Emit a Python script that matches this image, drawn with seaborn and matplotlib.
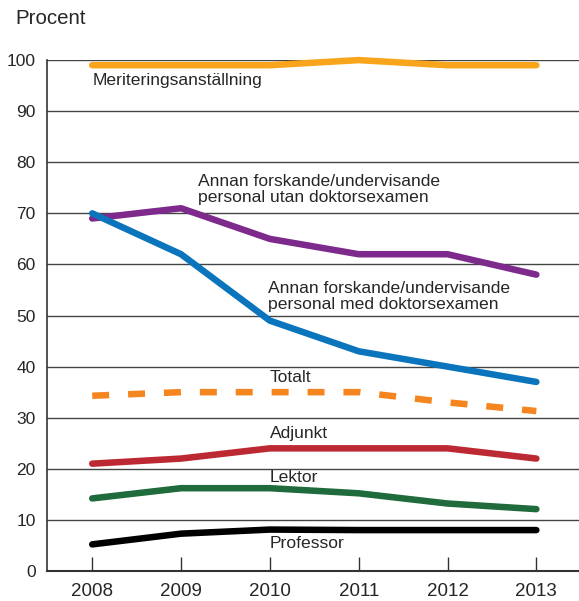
import matplotlib
matplotlib.use("Agg")
import matplotlib.pyplot as plt
import seaborn as sns
import pandas as pd

years = [2008, 2009, 2010, 2011, 2012, 2013]

meritering = [99, 99, 99, 100, 99, 99]
utan_doktor = [69, 71, 65, 62, 62, 58]
med_doktor = [70, 62, 49, 43, 40, 37]
totalt = [34.3, 35, 35, 35, 33, 31.3]
adjunkt = [21, 22, 24, 24, 24, 22]
lektor = [14.2, 16.2, 16.2, 15.2, 13.2, 12.1]
professor = [5.2, 7.3, 8.1, 8, 8, 8]

series_names = ["Meriteringsanställning", "Utan doktorsexamen", "Med doktorsexamen",
                "Totalt", "Adjunkt", "Lektor", "Professor"]
series_values = [meritering, utan_doktor, med_doktor, totalt, adjunkt, lektor, professor]
colors = ["#F9A51B", "#7D2A8C", "#0A74BD", "#F5861F", "#BD2932", "#1F6B3B", "#000000"]

labels = [
    ("Meriteringsanställning", 2008.0, 96),
    ("Annan forskande/undervisande\npersonal utan doktorsexamen", 2009.19, 74.6),
    ("Annan forskande/undervisande\npersonal med doktorsexamen", 2009.98, 53.7),
    ("Totalt", 2010.0, 37.8),
    ("Adjunkt", 2010.0, 27),
    ("Lektor", 2010.0, 18.3),
    ("Professor", 2010.0, 5.4),
]

rows = []
for name, vals in zip(series_names, series_values):
    for yr, v in zip(years, vals):
        rows.append({"year": yr, "value": v, "serie": name})
df = pd.DataFrame(rows)

sns.set_style("white")
plt.rcParams["font.family"] = ["Liberation Sans", "DejaVu Sans"]

fig = plt.figure(figsize=(5.79, 6.01), dpi=100)
ax = fig.add_axes([0.081, 0.05, 0.919, 0.85])

palette = dict(zip(series_names, colors))
dashes = {n: "" for n in series_names}
dashes["Totalt"] = (2.6, 2.9)

sns.lineplot(data=df, x="year", y="value", hue="serie", style="serie",
             palette=palette, dashes=dashes, linewidth=4.7, legend=False,
             ax=ax, clip_on=False, solid_capstyle="round", dash_capstyle="butt",
             solid_joinstyle="round")

ax.set_xlim(2007.49, 2013.48)
ax.set_ylim(0, 100)
ax.set_yticks(range(0, 101, 10))
ax.set_xticks(years)
ax.yaxis.grid(True, color="#444444", linewidth=1.0)
ax.set_axisbelow(True)
for s in ["top", "right"]:
    ax.spines[s].set_visible(False)
ax.spines["left"].set_color("#333333")
ax.spines["bottom"].set_color("#333333")
ax.spines["left"].set_linewidth(1.2)
ax.spines["bottom"].set_linewidth(1.5)
ax.tick_params(axis="x", direction="in", length=10, width=1, color="#333333",
               labelsize=13.5, pad=9, bottom=True)
ax.tick_params(axis="y", length=0, labelsize=12.5, pad=8)
ax.set_xlabel("")
ax.set_ylabel("")

for txt, x, y in labels:
    ax.text(x, y, txt, fontsize=12.6, ha="left", va="center", linespacing=1.1)

fig.text(0.026, 0.97, "Procent", fontsize=14.8, ha="left", va="center")

fig.savefig("out.png", dpi=100)
